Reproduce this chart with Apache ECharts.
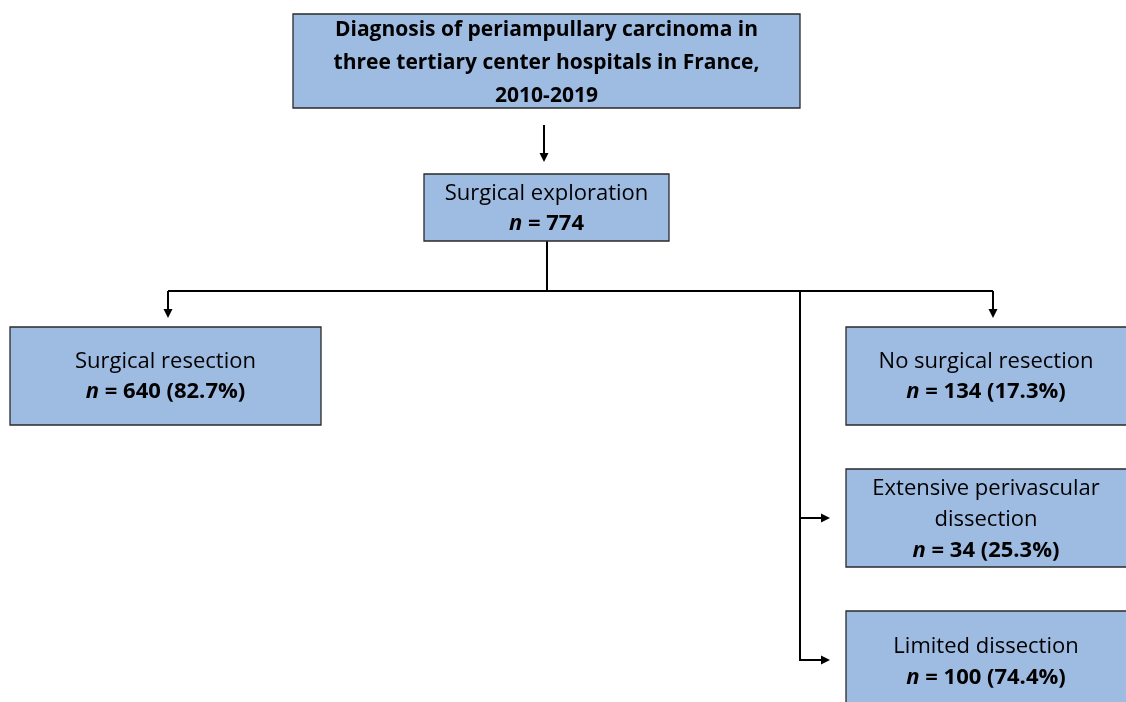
<!DOCTYPE html>
<html><head><meta charset="utf-8">
<script src="https://cdn.jsdelivr.net/npm/echarts@6/dist/echarts.min.js"></script>
<style>html,body{margin:0;padding:0;background:#fff}#c{width:1126px;height:702px}</style>
</head><body><div id="c"></div>
<script>
// ---- data ----
const titleLines = ['Diagnosis of periampullary carcinoma in', 'three tertiary center hospitals in France,', '2010-2019'];
const nodeNames = ['Surgical exploration', 'Surgical resection', 'No surgical resection', 'Extensive perivascular\ndissection', 'Limited dissection'];
const nodeCounts = [774, 640, 134, 34, 100];
const nodePercents = [null, '82.7%', '17.3%', '25.3%', '74.4%'];

// ---- layout (pixel frame of the page) ----
const W = 1126, H = 702;
const boxes = [
  { x0: 293, y0: 14, x1: 800, y1: 108, title: true, ty: 63, lh: 33 },
  { x0: 424, y0: 174, x1: 669, y1: 241, ty: 208.5, lh: 30 },
  { x0: 10, y0: 327, x1: 321, y1: 425, ty: 377, lh: 30 },
  { x0: 846, y0: 327, x1: 1140, y1: 425, ty: 377, lh: 30 },
  { x0: 846, y0: 469, x1: 1140, y1: 567, ty: 520, lh: 31 },
  { x0: 846, y0: 611, x1: 1140, y1: 712, ty: 662, lh: 31 }
];
boxes.forEach((b, i) => { if (!b.title) b.node = i - 1; });
const connectors = [
  { pts: [[544, 125], [544, 162]], arrow: true },
  { pts: [[547, 241], [547, 291]], arrow: false },
  { pts: [[168, 291], [993, 291]], arrow: false },
  { pts: [[168, 291], [168, 318]], arrow: true },
  { pts: [[993, 291], [993, 318]], arrow: true },
  { pts: [[800, 291], [800, 660], [830, 660]], arrow: true },
  { pts: [[800, 518], [830, 518]], arrow: true }
];

const FONT = 'Open Sans';
const FS = 22;
const fill = '#9EBBE2';

function labelFor(b) {
  if (b.title) return titleLines.map(l => '{t|' + l + '}').join('\n');
  const i = b.node;
  const name = nodeNames[i].split('\n').map(l => '{r|' + l + '}').join('\n');
  let cnt = '{i|n}{b| = ' + nodeCounts[i] + (nodePercents[i] ? ' (' + nodePercents[i] + ')' : '') + '}';
  return name + '\n' + cnt;
}

const chart = echarts.init(document.getElementById('c'), null, { renderer: 'canvas' });
chart.setOption({
  animation: false,
  grid: { left: 0, right: 0, top: 0, bottom: 0 },
  xAxis: { type: 'value', min: 0, max: W, show: false },
  yAxis: { type: 'value', min: 0, max: H, inverse: true, show: false },
  series: [
    {
      type: 'custom',
      coordinateSystem: 'cartesian2d',
      clip: false,
      data: connectors.map((c, i) => [c.pts[0][0], c.pts[0][1], i]),
      renderItem: function (params, api) {
        const c = connectors[api.value(2)];
        const pts = c.pts.map(p => api.coord(p));
        const children = [];
        const last = pts[pts.length - 1], prev = pts[pts.length - 2];
        let endPts = pts.slice();
        if (c.arrow) {
          const dx = last[0] - prev[0], dy = last[1] - prev[1];
          const len = Math.hypot(dx, dy), ux = dx / len, uy = dy / len;
          const L = 9, Wd = 4.5;
          const base = [last[0] - ux * L, last[1] - uy * L];
          endPts[endPts.length - 1] = [base[0] + ux * 1, base[1] + uy * 1];
          children.push({
            type: 'polygon',
            shape: { points: [last, [base[0] - uy * Wd, base[1] + ux * Wd], [base[0] + uy * Wd, base[1] - ux * Wd]] },
            style: { fill: '#000' }
          });
        }
        children.unshift({
          type: 'polyline',
          shape: { points: endPts },
          style: { stroke: '#000', lineWidth: 2, fill: null }
        });
        return { type: 'group', children: children };
      },
      z: 1
    },
    {
      type: 'custom',
      coordinateSystem: 'cartesian2d',
      clip: false,
      data: boxes.map((b, i) => [b.x0, b.y0, b.x1, b.y1, i]),
      renderItem: function (params, api) {
        const b = boxes[api.value(4)];
        const p0 = api.coord([api.value(0), api.value(1)]);
        const p1 = api.coord([api.value(2), api.value(3)]);
        const visR = Math.min(p1[0], W);
        const cx = (p0[0] + visR) / 2;
        const cy = api.coord([0, b.ty])[1];
        return {
          type: 'group',
          children: [
            {
              type: 'rect',
              shape: { x: p0[0], y: p0[1], width: p1[0] - p0[0], height: p1[1] - p0[1] },
              style: { fill: fill, stroke: '#2a2a2a', lineWidth: 1.3 }
            },
            {
              type: 'text',
              x: cx, y: cy,
              style: {
                text: labelFor(b),
                align: 'center',
                verticalAlign: 'middle',
                fill: '#000',
                rich: {
                  t: { fontFamily: FONT, fontSize: 21, fontWeight: 'bold', lineHeight: b.lh, fill: '#000', align: 'center' },
                  r: { fontFamily: FONT, fontSize: FS, lineHeight: b.lh, fill: '#000', align: 'center' },
                  i: { fontFamily: FONT, fontSize: FS, fontWeight: 'bold', fontStyle: 'italic', lineHeight: b.lh, fill: '#000' },
                  b: { fontFamily: FONT, fontSize: FS, fontWeight: 'bold', lineHeight: b.lh, fill: '#000' }
                }
              }
            }
          ]
        };
      },
      z: 2
    }
  ]
});
</script>
</body></html>
